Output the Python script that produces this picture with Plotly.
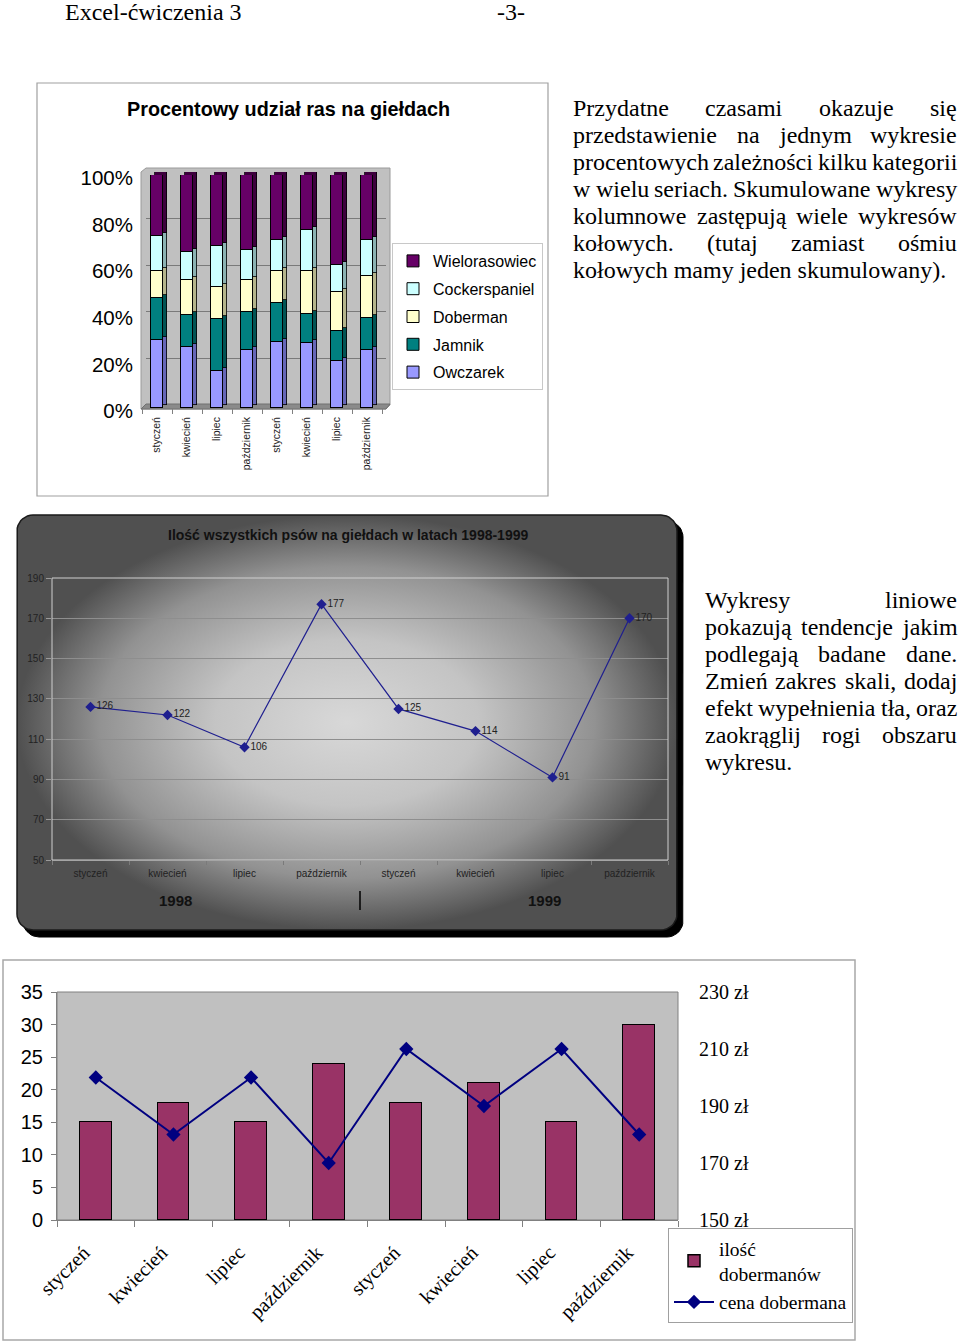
import numpy as np
import plotly.graph_objects as go

# ---------------- data ----------------
months = ["styczeń", "kwiecień", "lipiec", "październik",
          "styczeń", "kwiecień", "lipiec", "październik"]
years = ["1998", "1999"]

# chart 1: percentage share of breeds (100% stacked)
owczarek = [29, 26, 16, 25, 28.5, 28, 20, 25]
jamnik = [18, 14, 22, 16, 16.5, 12.5, 13, 13.5]
doberman = [12, 15, 14, 14, 14, 18.5, 17, 18]
cockerspaniel = [15, 12, 17.5, 13, 13, 17.5, 11.5, 15.5]
wielorasowiec = [26, 33, 30.5, 32, 28, 23.5, 38.5, 28]
pct_ticks = [0, 20, 40, 60, 80, 100]

# chart 2: number of all dogs
dogs_total = [126, 122, 106, 177, 125, 114, 91, 170]

# chart 3: dobermans
dobermany = [15, 18, 15, 24, 18, 21, 15, 30]
cena_dobermana = [200, 180, 200, 170, 210, 190, 210, 180]

# ---------------- helpers ----------------
W, H = 960, 1342
SANS = "Liberation Sans, Arial, sans-serif"
SERIF = "Liberation Serif, Times New Roman, serif"
idx = list(range(len(months)))


def fx(px):
    return px / W


def fy(py):
    return 1 - py / H


def rounded_rect(x0, y0, x1, y1, r, n=10):
    xs, ys = [], []
    corners = [(x1 - r, y0 + r, -90, 0), (x1 - r, y1 - r, 0, 90),
               (x0 + r, y1 - r, 90, 180), (x0 + r, y0 + r, 180, 270)]
    for cx, cy, a0, a1 in corners:
        for a in np.linspace(np.radians(a0), np.radians(a1), n):
            xs.append(cx + r * np.cos(a))
            ys.append(cy + r * np.sin(a))
    xs.append(xs[0]); ys.append(ys[0])
    return xs, ys


# Times New Roman advance widths (1/1000 em), metric-compatible with Liberation Serif
TNR = {' ': 250, '!': 333, '(': 333, ')': 333, ',': 250, '-': 333, '.': 250,
       'a': 444, 'b': 500, 'c': 444, 'd': 500, 'e': 444, 'f': 333, 'g': 500, 'h': 500,
       'i': 278, 'j': 278, 'k': 500, 'l': 278, 'm': 778, 'n': 500, 'o': 500, 'p': 500,
       'q': 500, 'r': 333, 's': 389, 't': 278, 'u': 500, 'v': 500, 'w': 722, 'x': 500,
       'y': 500, 'z': 444, 'P': 556, 'S': 556, 'W': 944, 'Z': 611, 'E': 611,
       'ą': 444, 'ę': 444, 'ś': 389, 'ź': 444, 'ż': 444, 'ł': 278, 'ń': 500, 'ó': 500,
       'ć': 444}


def tw(s, size):
    return sum(TNR.get(c, 500) for c in s) * size / 1000.0


fig = go.Figure()

# ---------------- canvas decorations (pixel axes x/y) ----------------
sx, sy = rounded_rect(23, 521, 683, 937, 16)
fig.add_trace(go.Scatter(x=sx, y=sy, fill="toself", mode="lines",
                         line=dict(color="black", width=1), fillcolor="black",
                         xaxis="x", yaxis="y", hoverinfo="skip", showlegend=False))
gx, gy = rounded_rect(17, 515, 677, 930, 16)
fig.add_trace(go.Scatter(x=gx, y=gy, fill="toself", mode="lines",
                         line=dict(color="#1a1a1a", width=1.5),
                         fillgradient=dict(type="radial",
                                           colorscale=[[0, "#d8d8d8"], [0.4, "#c4c4c4"],
                                                       [0.75, "#929292"], [1, "#505050"]]),
                         xaxis="x", yaxis="y", hoverinfo="skip", showlegend=False))
# top chart 3D wall and floor
fig.add_trace(go.Scatter(x=[141, 146, 390, 390, 386, 141, 141], y=[172, 168, 168, 405, 409, 409, 172],
                         fill="toself", mode="lines", line=dict(color="#9a9a9a", width=1),
                         fillcolor="#c0c0c0", xaxis="x", yaxis="y", hoverinfo="skip", showlegend=False))
fig.add_trace(go.Scatter(x=[141, 146, 390, 386, 141], y=[409, 404, 404, 409, 409],
                         fill="toself", mode="lines", line=dict(color="#707070", width=1),
                         fillcolor="#8a8a8a", xaxis="x", yaxis="y", hoverinfo="skip", showlegend=False))
# bottom chart plot area
fig.add_trace(go.Scatter(x=[57, 678, 678, 57, 57], y=[992, 992, 1220, 1220, 992],
                         fill="toself", mode="lines", line=dict(color="#808080", width=1),
                         fillcolor="#c0c0c0", xaxis="x", yaxis="y", hoverinfo="skip", showlegend=False))

# ---------------- chart 1: stacked 3D-ish columns ----------------
series = [("Owczarek", owczarek, "#9999ff", "#6666b8", 5),
          ("Jamnik", jamnik, "#008080", "#005454", 4),
          ("Doberman", doberman, "#ffffcc", "#b5b58c", 3),
          ("Cockerspaniel", cockerspaniel, "#ccffff", "#8cb3b3", 2),
          ("Wielorasowiec", wielorasowiec, "#660066", "#3d003d", 1)]
for name, vals, col, side, rank in series:
    fig.add_trace(go.Bar(x=idx, y=vals, width=0.4, marker=dict(color=side, line=dict(color="black", width=0.8)),
                         xaxis="x2", yaxis="y2", showlegend=False, hoverinfo="skip"))
for name, vals, col, side, rank in series:
    fig.add_trace(go.Bar(x=idx, y=vals, name=name, width=0.4, legendgroup=name, legend="legend",
                         legendrank=rank,
                         marker=dict(color=col, line=dict(color="black", width=1)),
                         xaxis="x3", yaxis="y3"))

# ---------------- chart 2: line ----------------
fig.add_trace(go.Scatter(x=idx, y=dogs_total, mode="lines+markers+text",
                         text=[str(v) for v in dogs_total], textposition="middle right",
                         textfont=dict(family=SANS, size=10, color="#222"),
                         line=dict(color="#1f1f8f", width=1.2),
                         marker=dict(symbol="diamond", size=8, color="#1f1f8f"),
                         xaxis="x4", yaxis="y4", showlegend=False, cliponaxis=False))

# ---------------- chart 3: bars + line on secondary axis ----------------
fig.add_trace(go.Bar(x=idx, y=dobermany, name="ilość<br>dobermanów", width=0.41,
                     marker=dict(color="#993366", line=dict(color="black", width=1.5)),
                     xaxis="x5", yaxis="y5", legend="legend2", legendrank=1))
fig.add_trace(go.Scatter(x=idx, y=cena_dobermana, name="cena dobermana", mode="lines+markers",
                         line=dict(color="#000080", width=2),
                         marker=dict(symbol="diamond", size=11, color="#000080"),
                         xaxis="x5", yaxis="y6", legend="legend2", legendrank=2, cliponaxis=False))

# ---------------- shapes ----------------
shapes = [
    dict(type="rect", xref="x", yref="y", x0=37, y0=83, x1=548, y1=496,
         line=dict(color="#a0a0a0", width=1.2), layer="above"),
    dict(type="rect", xref="x", yref="y", x0=3, y0=960, x1=855, y1=1340,
         line=dict(color="#a8a8a8", width=1.5), layer="above"),
    dict(type="rect", xref="x", yref="y", x0=52, y0=578, x1=668, y1=860,
         line=dict(color="#cfcfcf", width=1), layer="above"),
    dict(type="line", xref="x", yref="y", x0=360, y0=891, x1=360, y1=910,
         line=dict(color="black", width=1.5), layer="above"),
]

# ---------------- annotations (texts) ----------------
ann = []


def text(x, y, s, size, family=SERIF, xanchor="left", bold=False, color="black"):
    ann.append(dict(x=x, y=y, xref="x", yref="y", text=f"<b>{s}</b>" if bold else s,
                    showarrow=False, xanchor=xanchor, yanchor="middle",
                    borderpad=0, borderwidth=0,
                    font=dict(family=family, size=size, color=color)))


text(65, 12, "Excel-ćwiczenia 3", 24)
text(511, 12, "-3-", 24, xanchor="center")
text(288, 109, "Procentowy udział ras na giełdach", 19.8, family=SANS, xanchor="center", bold=True)
text(348, 535, "Ilość wszystkich psów na giełdach w latach 1998-1999", 14, family=SANS,
     xanchor="center", bold=True, color="#111")
text(175, 900, years[0], 15, family=SANS, xanchor="center", bold=True, color="#111")
text(544, 900, years[1], 15, family=SANS, xanchor="center", bold=True, color="#111")

para1 = ["Przydatne czasami okazuje się",
         "przedstawienie na jednym wykresie",
         "procentowych zależności kilku kategorii",
         "w wielu seriach. Skumulowane wykresy",
         "kolumnowe zastępują wiele wykresów",
         "kołowych. (tutaj zamiast ośmiu",
         "kołowych mamy jeden skumulowany)."]
para2 = ["Wykresy liniowe",
         "pokazują tendencje jakim",
         "podlegają badane dane.",
         "Zmień zakres skali, dodaj",
         "efekt wypełnienia tła, oraz",
         "zaokrąglij rogi obszaru",
         "wykresu."]


def paragraph(lines, left, right, y0, dy, size=24):
    for i, line in enumerate(lines):
        y = y0 + i * dy
        words = line.split(" ")
        if i == len(lines) - 1 or len(words) == 1:
            text(left, y, line, size)
            continue
        widths = [tw(w, size) for w in words]
        gap = (right - left - sum(widths)) / (len(words) - 1)
        x = left
        for w, wd in zip(words, widths):
            text(x, y, w, size)
            x += wd + gap


paragraph(para1, 573, 957, 108, 27)
paragraph(para2, 705, 957, 600, 27)

# ---------------- layout ----------------
minor_b = dict(ticks="outside", tick0=-0.5, dtick=1, ticklen=5, tickcolor="#808080", showgrid=False)

fig.update_layout(
    width=W, height=H, autosize=False,
    margin=dict(l=0, r=0, t=0, b=0, pad=0, autoexpand=False),
    paper_bgcolor="white", plot_bgcolor="rgba(0,0,0,0)",
    barmode="stack", bargap=0,
    shapes=shapes, annotations=ann,
    xaxis=dict(domain=[0, 1], range=[0, W], visible=False, fixedrange=True, automargin=False),
    yaxis=dict(domain=[0, 1], range=[H, 0], visible=False, fixedrange=True, automargin=False),
    # chart 1 back (3D side faces + wall grid)
    xaxis2=dict(domain=[fx(146), fx(386)], range=[-0.5, 7.5], visible=False, anchor="y2",
                automargin=False),
    yaxis2=dict(domain=[fy(405), fy(172)], range=[0, 100], anchor="x2", showgrid=True,
                gridcolor="#7a7a7a", gridwidth=1, dtick=20, showticklabels=False,
                zeroline=False, showline=False, ticks="", automargin=False),
    # chart 1 front
    xaxis3=dict(domain=[fx(142), fx(382)], range=[-0.5, 7.5], anchor="y3",
                tickmode="array", tickvals=idx, ticktext=months, tickangle=-90,
                tickfont=dict(family=SANS, size=10.5, color="#222"), ticks="",
                showgrid=False, zeroline=False, showline=False, minor=minor_b,
                ticklabelstandoff=6, automargin=False),
    yaxis3=dict(domain=[fy(408), fy(175)], range=[0, 100], anchor="x3",
                tickmode="array", tickvals=pct_ticks, ticktext=[f"{v}%" for v in pct_ticks],
                tickfont=dict(family=SANS, size=20.5, color="black"),
                showgrid=False, zeroline=False, showline=False, ticks="",
                ticklabelstandoff=8, ticklabelshift=3, automargin=False),
    # chart 2
    xaxis4=dict(domain=[fx(52), fx(668)], range=[-0.5, 7.5], anchor="y4",
                tickmode="array", tickvals=idx, ticktext=months,
                tickfont=dict(family=SANS, size=10, color="#222"), ticks="",
                showgrid=False, zeroline=False, showline=True, linecolor="#7a7a7a",
                ticklabelstandoff=4, automargin=False,
                minor=dict(ticks="outside", tick0=-0.5, dtick=1, ticklen=4,
                           tickcolor="#7a7a7a", showgrid=False)),
    yaxis4=dict(domain=[fy(860), fy(578)], range=[50, 190], anchor="x4",
                tick0=50, dtick=20, tickfont=dict(family=SANS, size=10, color="#222"),
                showgrid=True, gridcolor="#8e8e8e", gridwidth=1, zeroline=False,
                showline=False, ticks="outside", ticklen=5, tickcolor="#9a9a9a",
                automargin=False),
    # chart 3
    xaxis5=dict(domain=[fx(57), fx(678)], range=[-0.5, 7.5], anchor="y5",
                tickmode="array", tickvals=idx, ticktext=months, tickangle=-45,
                tickfont=dict(family=SERIF, size=20, color="black"), ticks="",
                ticklabelshift=-12, ticklabelstandoff=12, automargin=False,
                showgrid=False, zeroline=False, showline=True, linecolor="#808080",
                minor=dict(ticks="outside", tick0=-0.5, dtick=1, ticklen=6,
                           tickcolor="#808080", showgrid=False)),
    yaxis5=dict(domain=[fy(1220), fy(992)], range=[0, 35], anchor="x5",
                tick0=0, dtick=5, tickfont=dict(family=SANS, size=20, color="black"),
                showgrid=False, zeroline=False, showline=True, linecolor="#808080",
                ticks="outside", ticklen=5, tickcolor="#808080", ticklabelstandoff=4,
                automargin=False),
    yaxis6=dict(overlaying="y5", side="right", anchor="x5", range=[150, 230],
                tick0=150, dtick=20, ticksuffix=" zł",
                tickfont=dict(family=SERIF, size=20, color="black"),
                showgrid=False, zeroline=False, showline=False, ticks="",
                ticklabelstandoff=20, automargin=False),
    legend=dict(x=fx(392), y=fy(243), xanchor="left", yanchor="top",
                traceorder="grouped", tracegroupgap=4, itemwidth=30,
                font=dict(family=SANS, size=16, color="black"),
                bgcolor="white", bordercolor="#c8c8c8", borderwidth=1),
    legend2=dict(x=fx(668), y=fy(1228), xanchor="left", yanchor="top",
                 traceorder="normal", itemwidth=40,
                 font=dict(family=SERIF, size=19.5, color="black"),
                 bgcolor="white", bordercolor="#a0a0a0", borderwidth=1),
    showlegend=True,
)

fig.write_html(
    "out.html",
    config={"displayModeBar": False},
    post_script=("var s=document.createElement('style');"
                 "s.innerHTML='html,body{margin:0!important;padding:0!important;overflow:hidden;}';"
                 "document.head.appendChild(s);"
                 "document.documentElement.style.margin='0';document.body.style.margin='0';"),
)
